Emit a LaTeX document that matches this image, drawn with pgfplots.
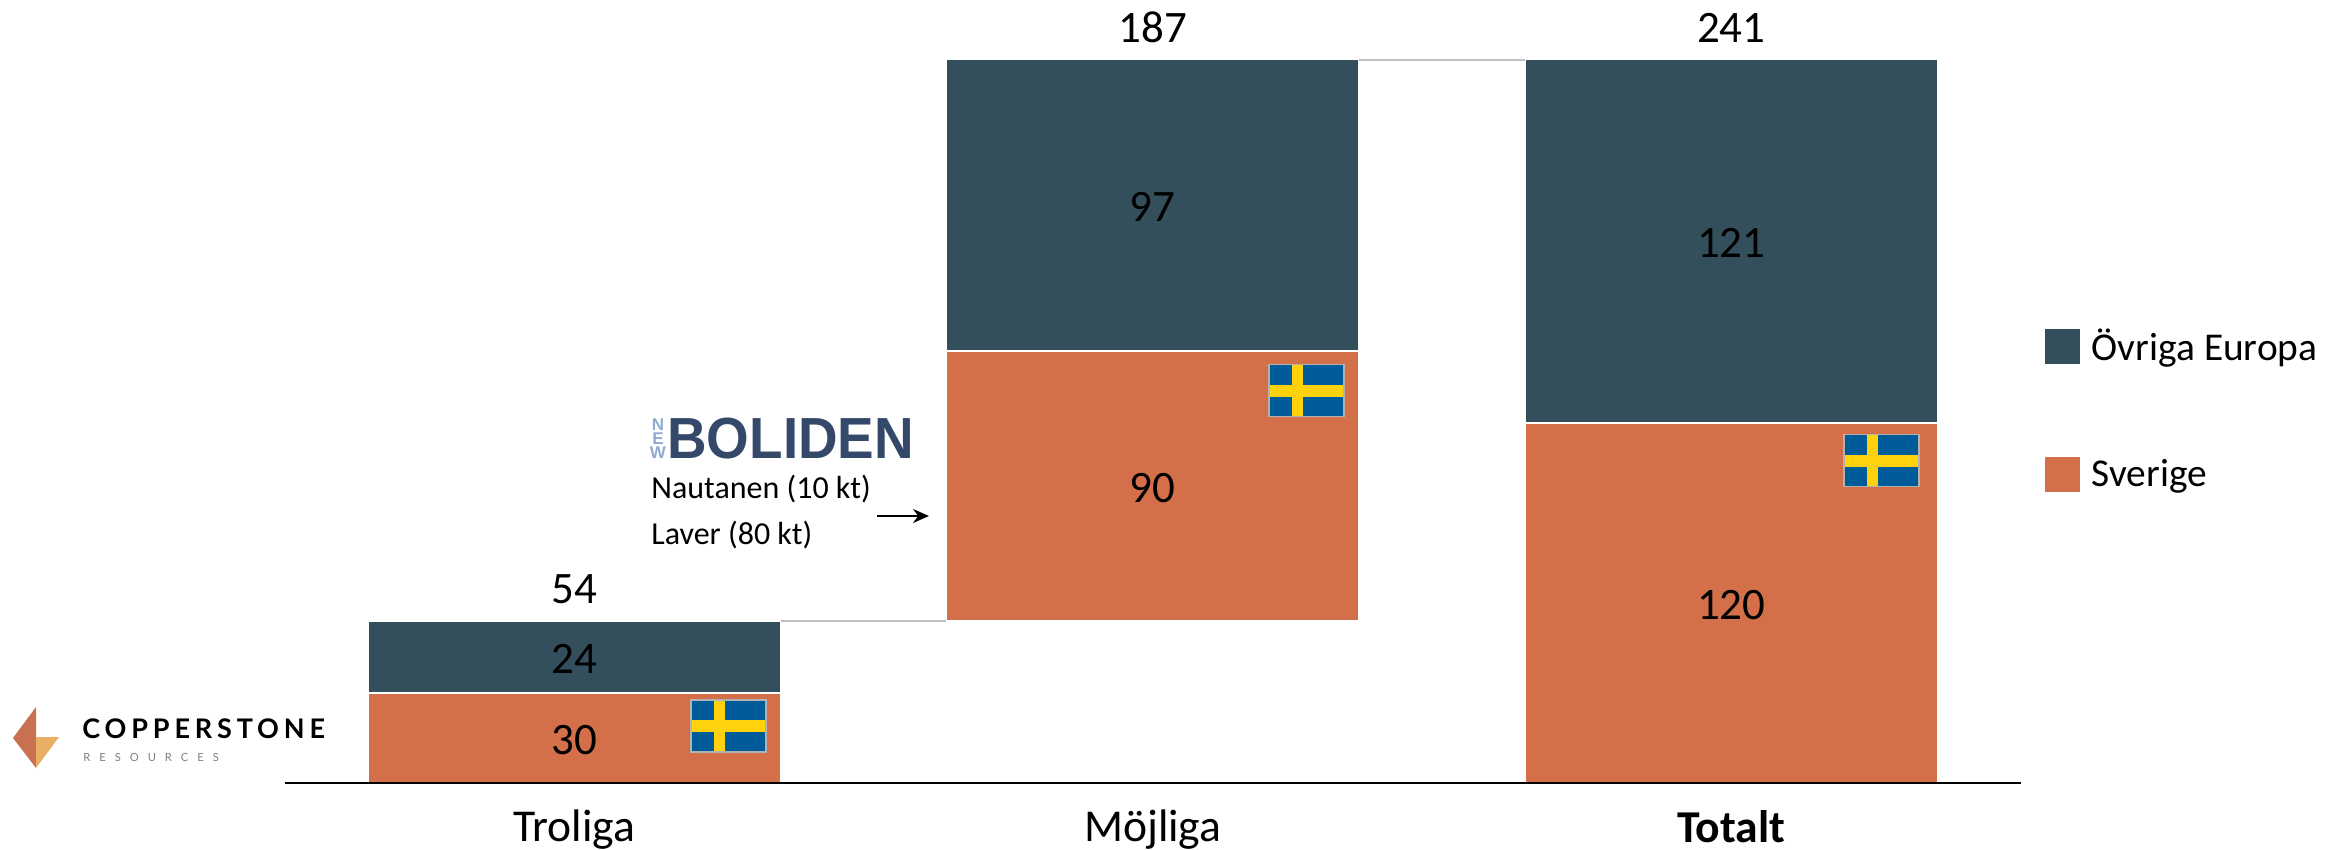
\documentclass[border=0pt]{standalone}
\usepackage{pgfplots}
\usepackage{fontspec}
\pgfplotsset{compat=1.18}
\usetikzlibrary{arrows.meta}
\setmainfont{Carlito}
\newfontfamily\logofont[LetterSpace=18]{Lato}
\newfontfamily\logosmall[LetterSpace=80]{Lato}
\newfontfamily\bolfont{Liberation Sans}

\definecolor{europa}{HTML}{344F5C}
\definecolor{sverige}{HTML}{D3704A}
\definecolor{flagblue}{HTML}{005B99}
\definecolor{flagyellow}{HTML}{FFD20C}
\definecolor{logodark}{HTML}{C8704F}
\definecolor{logolight}{HTML}{E8AE63}
\definecolor{bolblue}{HTML}{34496A}
\definecolor{bollight}{HTML}{8FAAD0}

\pgfplotstableread{
x base
0 0
1 54
2 0
}\basedata
\pgfplotstableread{
x y
0 30
1 90
2 120
}\sverigedata
\pgfplotstableread{
x y
0 24
1 97
2 121
}\europadata
% top = top of the stack, lab = the total written over it
\pgfplotstableread{
x top lab
0 54 54
1 241 187
2 241 241
}\totaldata

% flag, x y = top left in reference pixels
\newcommand{\flag}[2]{%
  \begin{scope}[shift={(#1,#2)}]
    \fill[flagblue] (0,0) rectangle (75,52);
    \fill[flagyellow] (23,0) rectangle (34,52);
    \fill[flagyellow] (0,20) rectangle (75,32);
    \draw[gray!60,line width=0.8pt] (0,0) rectangle (75,52);
  \end{scope}}

\pgfplotsset{chartbox/.style={
    at={(142.5pt,-391.5pt)},
    anchor=south west,
    scale only axis,
    width=867.75pt,
    height=390.15pt,
    xmin=-0.5,xmax=2.5,
    ymin=0,ymax=260,
    clip=false}}

\begin{document}
\begin{tikzpicture}
\path[use as bounding box] (0pt,0pt) rectangle (1171.5pt,-425pt);
\begin{axis}[
    chartbox,
    ybar stacked,
    bar width=206pt,
    axis on top,
    axis x line*=bottom,
    axis y line=none,
    axis line style={black,line width=1.1pt,-},
    xtick={0,1,2},
    xticklabels={Troliga,Möjliga,\textbf{Totalt}},
    major tick length=0pt,
    ytick=\empty,
    xticklabel style={font=\fontsize{22.8}{25}\selectfont,yshift=-10pt},
    legend style={at={(1.0141,0.5868)},anchor=north west,draw=none,fill=none,
      inner sep=0pt,outer sep=0pt,
      font=\fontsize{19.7}{22}\selectfont,
      /tikz/every odd column/.append style={column sep=3.7pt},
      row sep=44pt},
    reverse legend,
    legend cell align=left,
    /pgf/number format/assume math mode=true,
    nodes near coords style={font=\fontsize{22.5}{25}\selectfont,black,anchor=center,yshift=-1pt},
]
\addplot[draw=none,fill=none,forget plot] table[x=x,y=base] {\basedata};
\addplot[fill=sverige,draw=white,line width=0.7pt,nodes near coords,
  legend image code/.code={\fill[sverige] (0pt,-8.5pt) rectangle (17pt,8.5pt);}]
  table[x=x,y=y] {\sverigedata};
\addlegendentry{Sverige}
\addplot[fill=europa,draw=white,line width=0.7pt,nodes near coords,
  legend image code/.code={\fill[europa] (0pt,-8.5pt) rectangle (17pt,8.5pt);}]
  table[x=x,y=y] {\europadata};
\addlegendentry{Övriga Europa}
\draw[gray!50,line width=0.8pt] (axis cs:0.356,54) -- (axis cs:0.644,54);
\draw[gray!50,line width=0.8pt] (axis cs:1.356,241) -- (axis cs:1.644,241);
\end{axis}

% totals, in an unstacked axis with the same box
\begin{axis}[chartbox,hide axis]
\addplot[only marks,mark=none,nodes near coords,point meta=explicit symbolic,
  nodes near coords style={font=\fontsize{22.5}{25}\selectfont,black,anchor=center,yshift=16pt}]
  table[x=x,y=top,meta=lab] {\totaldata};
\end{axis}

\begin{scope}[x=0.5pt,y=-0.5pt]
\flag{691}{700}
\flag{1269}{364.5}
\flag{1844}{434.5}

% Copperstone logo
\fill[logodark] (36,707) -- (13,738) -- (36,768) -- cycle;
\fill[logolight] (36,737) -- (59,737) -- (36,768) -- cycle;
\node[anchor=west,inner sep=0pt,font=\logofont\fontsize{13.5}{14}\bfseries\selectfont] at (82,729) {COPPERSTONE};
\node[anchor=west,inner sep=0pt,text=gray,font=\logosmall\fontsize{5.6}{6}\selectfont] at (83,757) {RESOURCES};

% Boliden logo
\node[anchor=west,inner sep=0pt,text=bolblue,font=\bolfont\bfseries\fontsize{29}{29}\selectfont] at (667,439) {\scalebox{0.945}[1]{BOLIDEN}};
\foreach \l/\yy in {N/425,E/439,W/453}
  \node[inner sep=0pt,text=bollight,font=\bolfont\bfseries\fontsize{8.5}{9}\selectfont] at (658,\yy) {\l};
\node[anchor=west,inner sep=0pt,font=\fontsize{16}{18}\selectfont] at (651,489) {Nautanen (10 kt)};
\node[anchor=west,inner sep=0pt,font=\fontsize{16}{18}\selectfont] at (651,535) {Laver (80 kt)};
\draw[-{Stealth[length=8pt,width=7pt]},black,line width=0.9pt] (877,516) -- (929,516);
\end{scope}
\end{tikzpicture}
\end{document}
